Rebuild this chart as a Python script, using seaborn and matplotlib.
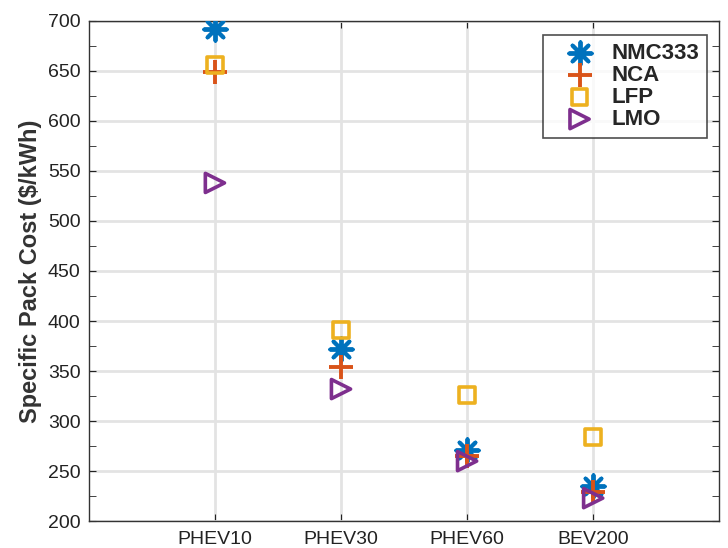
import numpy as np
import pandas as pd
import matplotlib
matplotlib.use('Agg')
import matplotlib.pyplot as plt
import seaborn as sns

# categories and values
vehicles = ['PHEV10', 'PHEV30', 'PHEV60', 'BEV200']
nmc333 = [692, 372, 271, 235]
nca = [649, 354, 265, 229]
lfp = [656, 391, 326, 284]
lmo = [538, 332, 260, 223]

sns.set_style('ticks')
plt.rcParams['font.family'] = ['Liberation Sans', 'DejaVu Sans']

fig, ax = plt.subplots(figsize=(7.28, 5.48), dpi=100)

# series: name, values, color, marker, hollow?, size
series = [
    ('NMC333', nmc333, '#0072BD', (8, 2, 0), False, 260),
    ('NCA', nca, '#D95319', '+', False, 300),
    ('LFP', lfp, '#EDB120', 's', True, 130),
    ('LMO', lmo, '#7E2F8E', '>', True, 190),
]

for name, vals, col, mk, hollow, size in series:
    df = pd.DataFrame({'Vehicle': vehicles, 'Cost': vals})
    if hollow:
        sns.scatterplot(data=df, x='Vehicle', y='Cost', ax=ax, marker=mk, s=size,
                        facecolor='none', edgecolor=col, linewidth=2.6, label=name, zorder=3)
    else:
        sns.scatterplot(data=df, x='Vehicle', y='Cost', ax=ax, marker=mk, s=size,
                        color=col, linewidth=2.8, label=name, zorder=3)

ax.set_xlim(-1, 4)
ax.set_ylim(200, 700)
ax.set_xticks(range(len(vehicles)))
ax.set_xticklabels(vehicles)
ax.set_yticks(np.arange(200, 701, 50))
ax.set_yticks(np.arange(200, 701, 25), minor=True)
ax.grid(True, which='major', color='#e3e3e3', linewidth=2.0, zorder=0)
ax.set_axisbelow(True)
ax.tick_params(axis='both', which='both', direction='in', top=True, right=True,
               labelsize=14, colors='#222222', length=5)
ax.tick_params(axis='x', which='minor', bottom=False, top=False)
ax.tick_params(axis='x', pad=7)
ax.tick_params(axis='y', pad=6)
for sp in ax.spines.values():
    sp.set_color('#333333')
    sp.set_linewidth(1.0)

ax.set_xlabel('')
ax.set_ylabel('Specific Pack Cost ($/kWh)', fontsize=17, fontweight='bold',
              color='#333333', labelpad=4)

leg = ax.legend(loc='upper right', fontsize=16, frameon=True, fancybox=False,
                edgecolor='#222222', handletextpad=0.15, handlelength=2.6,
                borderpad=0.35, labelspacing=0.05, borderaxespad=0,
                bbox_to_anchor=(0.981, 0.972))
for t in leg.get_texts():
    t.set_fontweight('bold')
leg.get_frame().set_linewidth(1.2)

plt.subplots_adjust(left=0.122, right=0.988, top=0.962, bottom=0.049)
plt.savefig('out.png', dpi=100)
